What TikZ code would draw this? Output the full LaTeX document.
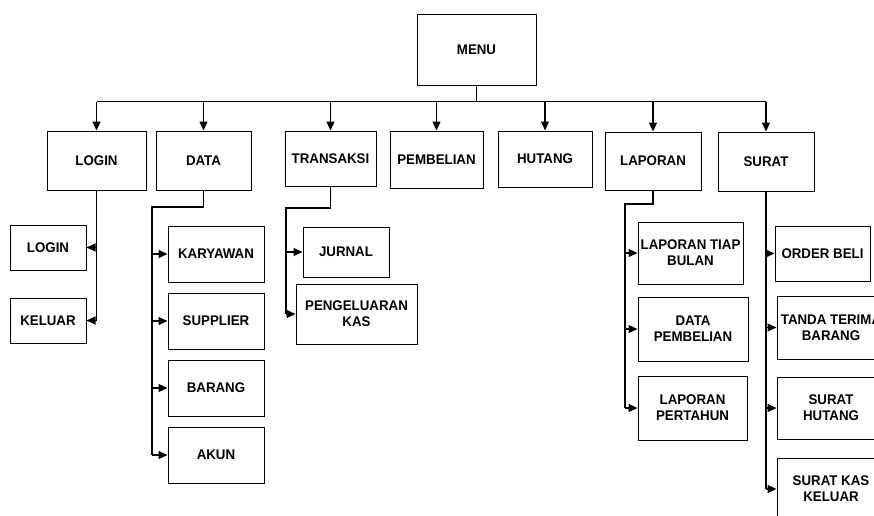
\documentclass[tikz,border=0pt]{standalone}
\usepackage{fontspec}
\setmainfont{Liberation Sans}[FakeStretch=0.95]
\usetikzlibrary{arrows.meta}
\begin{document}
\begin{tikzpicture}[x=1pt,y=-1pt,
  box/.style={draw=black,line width=1pt,align=center,inner sep=0pt,
    font=\bfseries\fontsize{14}{16}\selectfont},
  link/.style={draw=black,line width=1.1pt},
  arr/.style={link,-{Triangle[length=9pt,width=8pt]}}]
\useasboundingbox (0,0) rectangle (874,515);
\clip (0,0) rectangle (874,515);

% top level
\node[box,minimum width=119pt,minimum height=71pt] (menu) at (476.5,49.5) {MENU};

\node[box,minimum width=99pt,minimum height=59pt] (login) at (96.5,160.5) {LOGIN};
\node[box,minimum width=95pt,minimum height=59pt] (data) at (203.5,160.5) {DATA};
\node[box,minimum width=91pt,minimum height=55pt] (transaksi) at (330.5,158.5) {TRANSAKSI};
\node[box,minimum width=93pt,minimum height=57pt] (pembelian) at (436.5,159.5) {PEMBELIAN};
\node[box,minimum width=94pt,minimum height=56pt] (hutang) at (545,159) {HUTANG};
\node[box,minimum width=96pt,minimum height=58pt] (laporan) at (653,161) {LAPORAN};
\node[box,minimum width=96pt,minimum height=59pt] (surat) at (766,161.5) {SURAT};

% bus from MENU to the first level
\draw[link] (menu.south) -- ++(0,16) coordinate (bus);
\draw[link] (login.north |- bus) -- (surat.north |- bus);
\foreach \n in {login,data,transaksi,pembelian,hutang,laporan,surat}
  \draw[arr] (\n.north |- bus) -- (\n.north);

% LOGIN submenu
\node[box,minimum width=76pt,minimum height=45pt] (loginsub) at (48,247.5) {LOGIN};
\node[box,minimum width=76pt,minimum height=45pt] (keluar) at (48,320.5) {KELUAR};
\draw[link] (login.south) -- (login.south |- keluar.east);
\foreach \n in {loginsub,keluar}
  \draw[arr] (login.south |- \n.east) -- (\n.east);

% DATA submenu
\node[box,minimum width=96pt,minimum height=56pt] (karyawan) at (216,254) {KARYAWAN};
\node[box,minimum width=96pt,minimum height=56pt] (supplier) at (216,321) {SUPPLIER};
\node[box,minimum width=96pt,minimum height=56pt] (barang) at (216,388) {BARANG};
\node[box,minimum width=96pt,minimum height=56pt] (akun) at (216,455) {AKUN};
\coordinate (dsp) at (152,207);
\draw[link] (data.south) |- (dsp) -- (dsp |- akun.west);
\foreach \n in {karyawan,supplier,barang,akun}
  \draw[arr] (dsp |- \n.west) -- (\n.west);

% TRANSAKSI submenu
\node[box,minimum width=86pt,minimum height=50pt] (jurnal) at (346,252) {JURNAL};
\node[box,minimum width=121pt,minimum height=60pt] (pengeluaran) at (356.5,314) {PENGELUARAN\\KAS};
\coordinate (tsp) at (286,208);
\draw[link] (transaksi.south) |- (tsp) -- (tsp |- pengeluaran.west);
\foreach \n in {jurnal,pengeluaran}
  \draw[arr] (tsp |- \n.west) -- (\n.west);

% LAPORAN submenu
\node[box,minimum width=105pt,minimum height=62pt] (lapbulan) at (690.5,253) {LAPORAN TIAP\\BULAN};
\node[box,minimum width=110pt,minimum height=64pt] (datapemb) at (693,329) {DATA\\PEMBELIAN};
\node[box,minimum width=109pt,minimum height=64pt] (laptahun) at (692.5,408) {LAPORAN\\PERTAHUN};
\coordinate (lsp) at (625,204);
\draw[link] (laporan.south) |- (lsp) -- (lsp |- laptahun.west);
\foreach \n in {lapbulan,datapemb,laptahun}
  \draw[arr] (lsp |- \n.west) -- (\n.west);

% SURAT submenu
\node[box,minimum width=95pt,minimum height=55pt] (orderbeli) at (822.5,253.5) {ORDER BELI};
\node[box,minimum width=108pt,minimum height=63pt] (tanda) at (831,327.5) {TANDA TERIMA\\BARANG};
\node[box,minimum width=108pt,minimum height=62pt] (surhut) at (831,408) {SURAT\\HUTANG};
\node[box,minimum width=108pt,minimum height=62pt] (surkas) at (831,489) {SURAT KAS\\KELUAR};
\draw[link] (surat.south) -- (surat.south |- surkas.west);
\foreach \n in {orderbeli,tanda,surhut,surkas}
  \draw[arr] (surat.south |- \n.west) -- (\n.west);
\end{tikzpicture}
\end{document}
